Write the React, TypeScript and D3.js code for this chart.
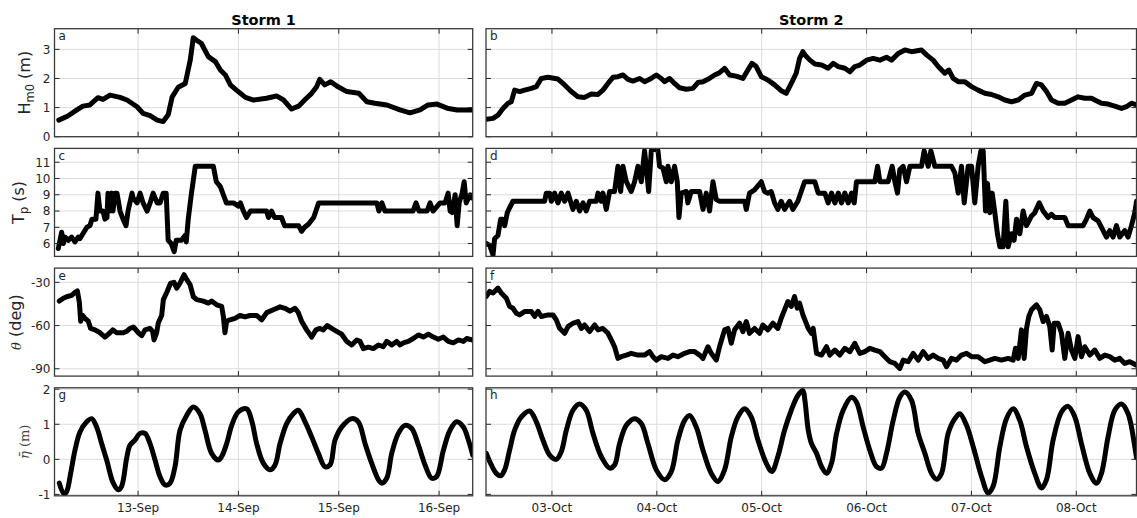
import * as d3 from 'd3';

// Wave conditions during two storms: significant wave height, peak period,
// mean direction and tidal level. Times are day-of-month (fractional).

const storm1Range = [12.167, 16.335]; // September
const storm2Range = [2.371, 8.574]; // October
const storm1Ticks = [13, 14, 15, 16];
const storm2Ticks = [3, 4, 5, 6, 7, 8];

const hm0Ticks = [0, 1, 2, 3];
const tpTicks = [6, 7, 8, 9, 10, 11];
const dirTicks = [-90, -60, -30];
const etaTicks = [-1, 0, 1, 2];

const hm0S1 = [[12.21,0.57],[12.30,0.71],[12.39,0.92],[12.45,1.05],[12.52,1.09],[12.60,1.34],[12.65,1.28],[12.72,1.43],[12.82,1.35],[12.89,1.26],[12.99,1.03],[13.05,0.80],[13.12,0.72],[13.19,0.57],[13.25,0.52],[13.30,0.75],[13.34,1.37],[13.40,1.70],[13.47,1.83],[13.52,2.63],[13.55,3.40],[13.58,3.32],[13.63,3.21],[13.70,2.75],[13.77,2.58],[13.82,2.29],[13.87,2.12],[13.92,1.78],[13.98,1.60],[14.07,1.35],[14.15,1.26],[14.28,1.32],[14.38,1.40],[14.45,1.26],[14.53,0.95],[14.60,1.05],[14.66,1.26],[14.73,1.49],[14.78,1.72],[14.81,1.97],[14.86,1.78],[14.92,1.89],[14.98,1.74],[15.08,1.55],[15.20,1.49],[15.28,1.20],[15.36,1.15],[15.48,1.09],[15.61,0.92],[15.71,0.82],[15.81,0.92],[15.89,1.09],[15.98,1.12],[16.08,0.98],[16.18,0.92],[16.33,0.92]];

const tpS1 = [[12.205,5.7],[12.238,6.7],[12.255,6.0],[12.272,6.4],[12.305,6.2],[12.338,6.4],[12.371,6.1],[12.405,6.4],[12.42,6.3],[12.45,6.6],[12.49,7.0],[12.52,7.1],[12.54,7.5],[12.58,7.5],[12.60,9.1],[12.62,8.0],[12.65,8.0],[12.67,7.5],[12.69,7.6],[12.70,9.1],[12.72,8.0],[12.74,9.1],[12.75,8.0],[12.77,9.1],[12.79,9.1],[12.82,8.0],[12.85,7.5],[12.88,7.1],[12.90,8.0],[12.94,9.1],[12.95,8.8],[12.99,8.5],[13.02,9.1],[13.05,8.5],[13.09,8.0],[13.12,8.5],[13.15,9.1],[13.19,8.5],[13.22,8.5],[13.25,9.1],[13.28,9.1],[13.30,6.2],[13.33,6.0],[13.36,5.5],[13.38,6.2],[13.43,6.2],[13.47,6.5],[13.48,6.1],[13.50,7.5],[13.53,9.0],[13.57,10.75],[13.75,10.75],[13.78,9.8],[13.82,9.5],[13.85,9.0],[13.88,8.5],[13.95,8.5],[14.00,8.3],[14.02,8.5],[14.05,8.0],[14.08,7.6],[14.12,8.0],[14.28,8.0],[14.30,7.6],[14.33,8.0],[14.36,7.6],[14.43,7.6],[14.46,7.1],[14.60,7.1],[14.63,6.75],[14.66,7.0],[14.70,7.2],[14.75,7.6],[14.80,8.5],[15.38,8.5],[15.40,8.0],[15.43,8.5],[15.46,8.0],[15.74,8.0],[15.77,8.5],[15.80,8.0],[15.88,8.0],[15.91,8.5],[15.94,8.0],[16.01,8.5],[16.06,8.5],[16.09,9.1],[16.11,8.0],[16.13,7.9],[16.16,9.0],[16.18,7.1],[16.20,8.5],[16.23,9.1],[16.25,9.8],[16.27,8.5],[16.31,9.0],[16.33,8.8]];

const dirS1 = [[12.215,-43],[12.255,-41],[12.288,-40],[12.338,-39],[12.371,-37],[12.395,-36],[12.415,-44],[12.428,-57],[12.448,-53],[12.471,-55],[12.504,-57],[12.527,-62],[12.571,-63],[12.621,-65],[12.670,-68],[12.720,-65],[12.747,-63],[12.787,-65],[12.853,-65],[12.886,-64],[12.919,-62],[12.953,-61],[13.003,-65],[13.036,-67],[13.069,-63],[13.119,-62],[13.145,-64],[13.159,-70],[13.185,-65],[13.202,-58],[13.235,-53],[13.252,-42],[13.285,-37],[13.325,-30.5],[13.358,-30],[13.385,-34],[13.418,-30.5],[13.458,-24.7],[13.484,-28],[13.518,-31.6],[13.551,-40],[13.584,-42],[13.650,-43],[13.700,-44.4],[13.733,-43],[13.783,-45.6],[13.833,-46.7],[13.850,-53.7],[13.866,-65],[13.883,-57],[13.916,-56],[13.966,-55],[14.016,-53],[14.066,-54],[14.115,-53],[14.182,-53],[14.232,-56],[14.282,-51],[14.348,-49],[14.415,-47],[14.464,-48],[14.514,-50],[14.564,-48],[14.597,-51],[14.630,-57],[14.680,-63],[14.730,-68],[14.773,-63],[14.813,-62],[14.846,-63],[14.886,-60],[14.929,-62],[14.979,-64],[15.029,-66],[15.079,-71],[15.129,-73.5],[15.179,-70],[15.212,-71],[15.245,-76],[15.295,-75],[15.345,-76],[15.395,-73.5],[15.444,-74.7],[15.478,-71],[15.528,-73.5],[15.577,-71],[15.611,-73.5],[15.644,-72],[15.693,-71],[15.743,-69],[15.793,-66.5],[15.843,-68],[15.893,-66],[15.943,-68],[15.993,-69.5],[16.043,-68],[16.092,-71],[16.142,-72],[16.192,-70],[16.242,-71],[16.275,-69],[16.335,-70]];

const etaS1 = [[12.215,-0.68],[12.262,-0.98],[12.288,-0.92],[12.328,-0.40],[12.371,0.26],[12.421,0.78],[12.488,1.07],[12.537,1.16],[12.587,0.92],[12.637,0.45],[12.687,-0.02],[12.753,-0.68],[12.803,-0.87],[12.836,-0.77],[12.886,0.03],[12.919,0.40],[12.969,0.55],[13.019,0.74],[13.069,0.74],[13.119,0.45],[13.169,-0.02],[13.218,-0.49],[13.268,-0.73],[13.318,-0.68],[13.368,-0.21],[13.418,0.83],[13.484,1.25],[13.551,1.49],[13.617,1.30],[13.667,0.83],[13.733,0.17],[13.800,-0.02],[13.833,0.08],[13.883,0.45],[13.933,0.97],[13.999,1.35],[14.082,1.44],[14.132,1.11],[14.182,0.45],[14.248,-0.11],[14.315,-0.30],[14.365,-0.16],[14.415,0.45],[14.481,1.02],[14.547,1.30],[14.597,1.40],[14.664,1.07],[14.730,0.64],[14.797,0.17],[14.863,-0.21],[14.913,-0.16],[14.963,0.55],[15.029,0.92],[15.129,1.16],[15.195,1.07],[15.262,0.45],[15.328,-0.11],[15.395,-0.58],[15.428,-0.68],[15.478,-0.54],[15.528,0.17],[15.594,0.74],[15.660,0.97],[15.727,0.88],[15.793,0.41],[15.860,-0.16],[15.926,-0.54],[15.976,-0.49],[16.043,0.26],[16.109,0.83],[16.175,1.07],[16.242,0.92],[16.292,0.55],[16.335,0.12]];

const hm0S2 = [[2.374,0.60],[2.438,0.63],[2.485,0.74],[2.533,0.97],[2.581,1.15],[2.612,1.20],[2.644,1.60],[2.692,1.55],[2.739,1.60],[2.803,1.66],[2.851,1.72],[2.898,2.00],[2.962,2.04],[3.057,1.98],[3.121,1.78],[3.184,1.55],[3.248,1.37],[3.311,1.35],[3.375,1.47],[3.439,1.45],[3.486,1.60],[3.534,1.83],[3.582,2.04],[3.629,2.06],[3.677,2.12],[3.725,1.97],[3.772,1.91],[3.836,2.00],[3.883,1.89],[3.931,1.97],[3.995,2.12],[4.042,2.00],[4.074,1.89],[4.122,2.00],[4.169,1.83],[4.217,1.68],[4.281,1.63],[4.344,1.66],[4.392,1.86],[4.440,1.89],[4.487,1.97],[4.551,2.12],[4.598,2.20],[4.646,2.35],[4.694,2.12],[4.757,2.08],[4.821,2.00],[4.868,2.29],[4.907,2.52],[4.948,2.41],[4.996,2.06],[5.059,1.95],[5.123,1.78],[5.186,1.58],[5.234,1.49],[5.282,1.83],[5.329,2.18],[5.361,2.69],[5.393,2.92],[5.412,2.81],[5.460,2.63],[5.507,2.50],[5.571,2.46],[5.634,2.35],[5.682,2.52],[5.730,2.41],[5.793,2.35],[5.841,2.23],[5.888,2.41],[5.936,2.46],[6.000,2.63],[6.063,2.69],[6.127,2.63],[6.190,2.73],[6.238,2.63],[6.302,2.86],[6.365,2.98],[6.429,2.92],[6.524,2.98],[6.572,2.81],[6.635,2.63],[6.683,2.41],[6.746,2.18],[6.785,2.29],[6.826,2.00],[6.874,1.89],[6.937,1.89],[7.001,1.72],[7.064,1.60],[7.128,1.49],[7.191,1.45],[7.255,1.37],[7.318,1.26],[7.382,1.20],[7.446,1.26],[7.509,1.43],[7.573,1.49],[7.620,1.83],[7.668,1.78],[7.716,1.55],[7.763,1.26],[7.827,1.15],[7.890,1.15],[7.954,1.26],[8.017,1.37],[8.081,1.32],[8.145,1.32],[8.176,1.26],[8.240,1.15],[8.303,1.12],[8.367,1.05],[8.431,0.97],[8.478,1.03],[8.526,1.15],[8.574,1.09]];

const tpS2 = [[2.374,6.0],[2.406,5.9],[2.438,5.3],[2.453,6.3],[2.485,6.5],[2.511,7.5],[2.533,7.5],[2.549,7.1],[2.574,7.9],[2.596,8.2],[2.628,8.6],[2.930,8.6],[2.946,9.1],[2.978,9.1],[2.994,8.6],[3.025,9.1],[3.057,8.5],[3.089,9.1],[3.121,8.6],[3.153,9.1],[3.200,8.1],[3.232,8.6],[3.264,8.0],[3.296,8.5],[3.327,8.0],[3.359,8.6],[3.423,8.6],[3.439,9.1],[3.470,8.6],[3.486,9.1],[3.518,8.1],[3.550,9.2],[3.597,9.2],[3.629,10.75],[3.655,9.2],[3.677,10.75],[3.709,9.8],[3.756,9.2],[3.788,9.8],[3.820,10.75],[3.852,9.8],[3.883,11.7],[3.899,10.75],[3.922,9.2],[3.947,11.7],[3.979,11.8],[4.011,11.7],[4.026,10.75],[4.058,10.65],[4.090,9.8],[4.106,10.75],[4.138,9.8],[4.169,10.75],[4.195,9.8],[4.211,7.6],[4.233,9.1],[4.281,9.2],[4.296,8.5],[4.328,9.2],[4.408,9.2],[4.440,8.1],[4.471,9.1],[4.503,8.0],[4.535,9.8],[4.567,8.7],[4.598,8.6],[4.837,8.6],[4.853,8.1],[4.884,9.1],[4.932,9.3],[4.996,9.8],[5.027,9.2],[5.059,9.1],[5.091,9.2],[5.123,8.5],[5.154,8.1],[5.186,8.6],[5.218,8.1],[5.266,8.6],[5.297,8.1],[5.345,8.6],[5.377,9.2],[5.409,9.8],[5.460,9.8],[5.507,9.8],[5.539,9.1],[5.602,9.1],[5.634,8.5],[5.666,9.1],[5.698,8.5],[5.730,9.1],[5.761,8.5],[5.793,9.1],[5.825,8.5],[5.857,9.1],[5.882,8.5],[5.904,9.8],[6.079,9.8],[6.105,10.75],[6.127,9.8],[6.206,9.8],[6.244,10.75],[6.270,9.8],[6.295,9.1],[6.317,10.55],[6.349,10.75],[6.381,9.8],[6.413,10.75],[6.524,10.75],[6.549,11.7],[6.588,10.75],[6.613,11.7],[6.651,10.75],[6.810,10.75],[6.842,10.35],[6.874,9.1],[6.905,10.75],[6.931,8.5],[6.969,10.75],[7.001,10.75],[7.032,8.5],[7.064,10.75],[7.090,11.7],[7.112,11.7],[7.134,8.0],[7.153,9.7],[7.175,7.9],[7.198,9.1],[7.223,7.9],[7.248,6.6],[7.271,5.8],[7.302,5.8],[7.328,8.6],[7.350,5.8],[7.382,6.6],[7.407,6.2],[7.430,7.5],[7.461,6.6],[7.493,8.0],[7.525,7.1],[7.573,7.7],[7.604,7.9],[7.646,8.5],[7.684,8.0],[7.731,7.6],[7.763,7.8],[7.795,7.6],[7.890,7.6],[7.922,7.1],[8.065,7.1],[8.097,7.5],[8.129,8.0],[8.160,7.6],[8.208,7.4],[8.256,6.8],[8.288,6.4],[8.319,6.8],[8.351,6.4],[8.383,7.1],[8.415,6.4],[8.462,6.8],[8.494,6.4],[8.526,7.1],[8.558,7.9],[8.574,8.6]];

const dirS2 = [[2.374,-39.8],[2.406,-36.3],[2.438,-37.4],[2.485,-34],[2.517,-37.4],[2.565,-41],[2.596,-46.7],[2.628,-48],[2.660,-51.4],[2.692,-52.6],[2.739,-50.2],[2.803,-50.2],[2.835,-53.7],[2.867,-50.2],[2.898,-53.7],[2.962,-52.6],[3.010,-52.6],[3.041,-56],[3.073,-61.9],[3.121,-65.4],[3.153,-60.7],[3.200,-58.4],[3.248,-57.2],[3.280,-62],[3.311,-59.6],[3.359,-64.2],[3.407,-59.6],[3.439,-63],[3.486,-62],[3.534,-65.4],[3.566,-70],[3.597,-74.7],[3.629,-82.8],[3.661,-81.6],[3.709,-80.5],[3.756,-79.3],[3.820,-80.5],[3.883,-80.5],[3.931,-78.1],[3.963,-81.6],[3.995,-84],[4.042,-81.6],[4.106,-82.8],[4.154,-80.5],[4.201,-81.6],[4.265,-79.3],[4.312,-78.1],[4.360,-78.1],[4.408,-80.5],[4.440,-82.8],[4.487,-74.7],[4.519,-79.3],[4.567,-84],[4.598,-74.7],[4.646,-63],[4.678,-62],[4.710,-72.3],[4.741,-63],[4.789,-58.4],[4.821,-64.2],[4.853,-57.2],[4.884,-65.4],[4.932,-62],[4.980,-65.4],[5.011,-59.6],[5.059,-63],[5.107,-58.4],[5.154,-62],[5.186,-54.9],[5.218,-49.1],[5.250,-43.3],[5.282,-46.7],[5.313,-39.8],[5.339,-47.9],[5.361,-44.4],[5.393,-52.6],[5.444,-62],[5.475,-65.4],[5.491,-62],[5.523,-79.3],[5.571,-80.5],[5.618,-74.7],[5.650,-80.5],[5.698,-77],[5.745,-80.5],[5.793,-75.8],[5.841,-78.1],[5.888,-72.3],[5.936,-79.3],[5.984,-78.1],[6.031,-75.8],[6.079,-77],[6.127,-78.1],[6.174,-81.6],[6.222,-85.1],[6.270,-86.3],[6.317,-89.8],[6.349,-84],[6.397,-85.1],[6.445,-79.3],[6.492,-84],[6.540,-78.1],[6.588,-82.8],[6.635,-80.5],[6.683,-82.8],[6.731,-84],[6.762,-88.6],[6.810,-82.8],[6.858,-84],[6.905,-80.5],[6.953,-79.3],[7.001,-81.6],[7.064,-81.6],[7.128,-85.1],[7.175,-84],[7.223,-82.8],[7.287,-84],[7.350,-82.8],[7.398,-84],[7.420,-75.8],[7.446,-82.8],[7.477,-63],[7.503,-82.8],[7.525,-62],[7.547,-53.7],[7.573,-49.1],[7.620,-45.6],[7.652,-49.1],[7.684,-57.2],[7.716,-53.7],[7.747,-60.7],[7.770,-77],[7.789,-58.4],[7.827,-58.4],[7.859,-65.4],[7.890,-82.8],[7.922,-65.4],[7.954,-77],[7.986,-82.8],[8.017,-67.7],[8.049,-81.6],[8.081,-74.7],[8.129,-80.5],[8.176,-77],[8.224,-82.8],[8.272,-80.5],[8.319,-81.6],[8.367,-84],[8.415,-82.8],[8.462,-86.3],[8.510,-85.1],[8.574,-87.5]];

const etaS2 = [[2.374,0.17],[2.422,-0.16],[2.469,-0.40],[2.511,-0.47],[2.549,-0.30],[2.596,0.26],[2.644,0.83],[2.708,1.21],[2.787,1.38],[2.851,1.07],[2.914,0.55],[2.978,0.12],[3.041,0.00],[3.089,0.22],[3.137,0.83],[3.200,1.40],[3.264,1.58],[3.327,1.40],[3.391,0.74],[3.470,0.08],[3.550,-0.25],[3.597,-0.16],[3.645,0.45],[3.709,0.97],[3.788,1.16],[3.852,1.02],[3.915,0.45],[3.995,-0.30],[4.074,-0.58],[4.138,-0.35],[4.201,0.55],[4.265,1.11],[4.312,1.25],[4.376,0.92],[4.440,0.26],[4.519,-0.40],[4.582,-0.63],[4.646,-0.30],[4.710,0.64],[4.773,1.21],[4.837,1.44],[4.900,1.21],[4.964,0.55],[5.043,-0.11],[5.097,-0.35],[5.154,0.08],[5.218,0.83],[5.282,1.40],[5.345,1.82],[5.393,1.96],[5.412,1.68],[5.444,0.83],[5.475,0.45],[5.523,0.17],[5.571,-0.21],[5.618,-0.40],[5.666,-0.11],[5.714,0.74],[5.777,1.40],[5.857,1.77],[5.904,1.63],[5.968,0.92],[6.031,0.26],[6.095,-0.21],[6.143,-0.25],[6.190,0.17],[6.254,1.11],[6.317,1.77],[6.365,1.92],[6.429,1.68],[6.492,0.74],[6.556,0.17],[6.619,-0.40],[6.667,-0.57],[6.715,-0.40],[6.778,0.74],[6.842,1.16],[6.889,1.30],[6.953,0.97],[7.017,0.36],[7.096,-0.49],[7.160,-0.96],[7.207,-0.77],[7.271,0.36],[7.334,1.16],[7.398,1.44],[7.461,1.11],[7.525,0.36],[7.604,-0.40],[7.668,-0.82],[7.716,-0.58],[7.779,0.55],[7.859,1.35],[7.922,1.51],[7.986,1.21],[8.049,0.45],[8.129,-0.40],[8.192,-0.68],[8.240,-0.40],[8.303,0.64],[8.367,1.40],[8.431,1.58],[8.494,1.30],[8.558,0.36],[8.574,0.05]];

const W = 1137;
const H = 518;
const DAY = 86400000;
const SEP = Date.UTC(2018, 8, 1);
const OCT = Date.UTC(2018, 9, 1);
const TEXT = '#262626';
const SANS = '"DejaVu Sans", sans-serif';
const SERIF = '"DejaVu Serif", serif';

const toDate = (base: number, d: number) => new Date(base + (d - 1) * DAY);

const cols = [
  { left: 54.5, right: 472.7, base: SEP, range: storm1Range, ticks: storm1Ticks, title: 'Storm 1' },
  { left: 486, right: 1136.5, base: OCT, range: storm2Range, ticks: storm2Ticks, title: 'Storm 2' },
];

const ROW_TOP = 28.7;
const ROW_STEP = 119.7;
const ROW_H = 108;
const TICK = 5;

const rows = [
  { key: 'hm0', domain: [0, 3.71], ticks: hm0Ticks, series: [hm0S1, hm0S2], letters: ['a', 'b'], smooth: false, labelX: 30 },
  { key: 'tp', domain: [5.21, 11.85], ticks: tpTicks, series: [tpS1, tpS2], letters: ['c', 'd'], smooth: false, labelX: 24 },
  { key: 'dir', domain: [-95.1, -20.1], ticks: dirTicks, series: [dirS1, dirS2], letters: ['e', 'f'], smooth: false, labelX: 21 },
  { key: 'eta', domain: [-1.04, 2.04], ticks: etaTicks, series: [etaS1, etaS2], letters: ['g', 'h'], smooth: true, labelX: 29 },
];

function YLabel({ row, x, y }: { row: string; x: number; y: number }) {
  const t = `translate(${x},${y}) rotate(-90)`;
  if (row === 'hm0') {
    return (
      <text transform={t} textAnchor="middle" fontFamily={SANS} fontSize={16} fill={TEXT}>
        H<tspan fontSize={11.5} dy={4}>m0</tspan><tspan dy={-4}> (m)</tspan>
      </text>
    );
  }
  if (row === 'tp') {
    return (
      <text transform={t} textAnchor="middle" fontFamily={SANS} fontSize={16} fill={TEXT}>
        T<tspan fontSize={11.5} dy={4}>p</tspan><tspan dy={-4}> (s)</tspan>
      </text>
    );
  }
  if (row === 'dir') {
    return (
      <text transform={t} textAnchor="middle" fontFamily={SANS} fontSize={16} fill={TEXT}>
        <tspan fontFamily={SERIF} fontStyle="italic" fontSize={13}>θ</tspan> (deg)
      </text>
    );
  }
  return (
    <text transform={t} textAnchor="middle" fontFamily={SERIF} fontSize={13} fill="#444">
      <tspan fontStyle="italic">{'η\u0304'}</tspan> (m)
    </text>
  );
}

export default function App() {
  return (
    <svg width={W} height={H} style={{ position: 'absolute', left: 0, top: 0, background: '#fff' }}>
      <defs>
        {rows.map((r, ri) =>
          cols.map((c, ci) => (
            <clipPath id={`clip-${ri}-${ci}`} key={`${ri}-${ci}`}>
              <rect x={c.left} y={ROW_TOP + ri * ROW_STEP} width={c.right - c.left} height={ROW_H} />
            </clipPath>
          ))
        )}
      </defs>
      {cols.map((c) => (
        <text key={c.title} x={(c.left + c.right) / 2} y={25} textAnchor="middle"
          fontFamily={SANS} fontWeight="bold" fontSize={14.5} fill="#000">{c.title}</text>
      ))}
      {rows.map((r, ri) => {
        const top = ROW_TOP + ri * ROW_STEP;
        const bottom = top + ROW_H;
        const y = d3.scaleLinear().domain(r.domain).range([bottom, top]);
        return (
          <g key={r.key}>
            <YLabel row={r.key} x={r.labelX} y={(top + bottom) / 2} />
            {cols.map((c, ci) => {
              const x = d3.scaleUtc()
                .domain([toDate(c.base, c.range[0]), toDate(c.base, c.range[1])])
                .range([c.left, c.right]);
              const xt = c.ticks.map(d => toDate(c.base, d));
              const fmt = d3.utcFormat('%d-%b');
              const line = d3.line<number[]>()
                .x(d => x(toDate(c.base, d[0])))
                .y(d => y(d[1]))
                .curve(r.smooth ? d3.curveCatmullRom.alpha(0.5) : d3.curveLinear);
              return (
                <g key={ci}>
                  {/* grid */}
                  {xt.map((d, i) => (
                    <line key={`gx${i}`} x1={x(d)} x2={x(d)} y1={top} y2={bottom} stroke="#dcdcdc" strokeWidth={1} />
                  ))}
                  {r.ticks.map(v => (
                    <line key={`gy${v}`} x1={c.left} x2={c.right} y1={y(v)} y2={y(v)} stroke="#dcdcdc" strokeWidth={1} />
                  ))}
                  {/* data */}
                  <path d={line(r.series[ci]) || ''} fill="none" stroke="#000" strokeWidth={5}
                    strokeLinejoin="round" strokeLinecap="round" clipPath={`url(#clip-${ri}-${ci})`} />
                  {/* ticks inward on all sides */}
                  {xt.map((d, i) => (
                    <g key={`tx${i}`} stroke="#262626" strokeWidth={1}>
                      <line x1={x(d)} x2={x(d)} y1={bottom} y2={bottom - TICK} />
                      <line x1={x(d)} x2={x(d)} y1={top} y2={top + TICK} />
                    </g>
                  ))}
                  {r.ticks.map(v => (
                    <g key={`ty${v}`} stroke="#262626" strokeWidth={1}>
                      <line x1={c.left} x2={c.left + TICK} y1={y(v)} y2={y(v)} />
                      <line x1={c.right} x2={c.right - TICK} y1={y(v)} y2={y(v)} />
                    </g>
                  ))}
                  <rect x={c.left} y={top} width={c.right - c.left} height={ROW_H}
                    fill="none" stroke="#3a3a3a" strokeWidth={1.3} />
                  <text x={c.left + 4} y={top + 11.5} fontFamily={SANS} fontSize={12} fill={TEXT}>{r.letters[ci]}</text>
                  {ci === 0 && r.ticks.map(v => (
                    <text key={`ly${v}`} x={c.left - 4} y={y(v)} dy="0.36em" textAnchor="end"
                      fontFamily={SANS} fontSize={12} fill={TEXT}>{String(v)}</text>
                  ))}
                  {ri === rows.length - 1 && xt.map((d, i) => (
                    <text key={`lx${i}`} x={x(d)} y={bottom + 16} textAnchor="middle"
                      fontFamily={SANS} fontSize={12} fill={TEXT}>{fmt(d)}</text>
                  ))}
                </g>
              );
            })}
          </g>
        );
      })}
    </svg>
  );
}
